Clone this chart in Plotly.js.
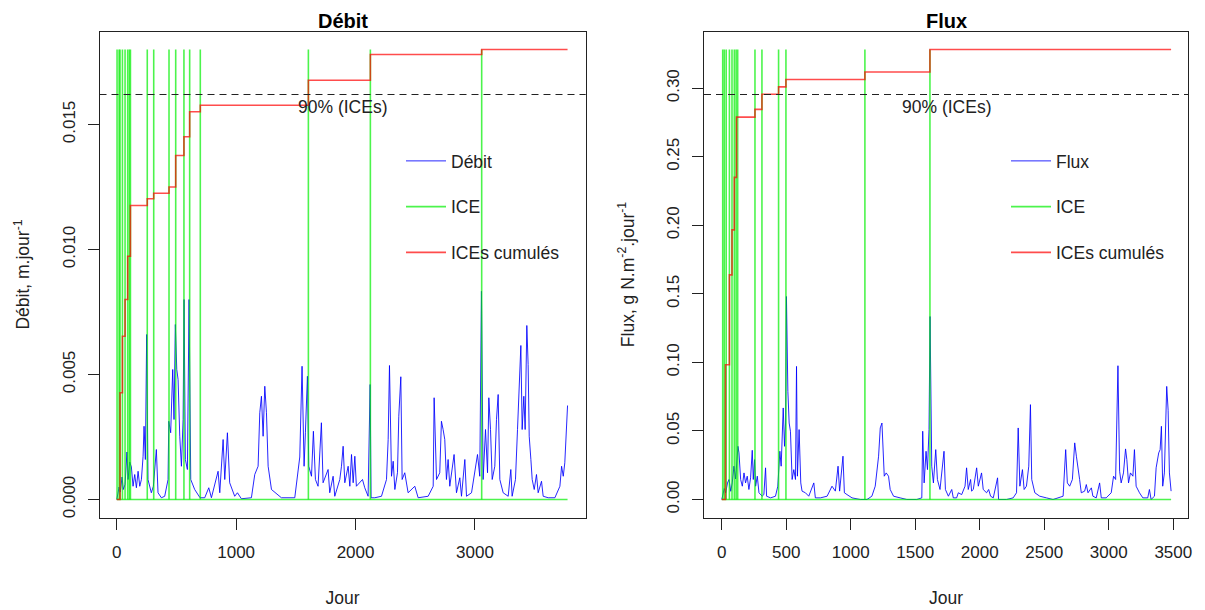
<!DOCTYPE html>
<html>
<head>
<meta charset="utf-8">
<script src="https://cdn.plot.ly/plotly-3.0.1.min.js"></script>
<style>html,body{margin:0;padding:0;background:#fff;}#chart{width:1205px;height:610px;}</style>
</head>
<body>
<div id="chart"></div>
<script>
// ---------- Débit panel (left) ----------
const debitDays = [1,10,20,30,45,55,70,86,95,109,123,137,151,165,179,193,207,221,229,240,251,262,290,307,318,332,346,374,402,430,436,452,469,480,491,503,514,528,542,556,564,575,592,606,620,653,698,737,771,793,849,863,891,905,927,946,988,1011,1044,1128,1156,1184,1198,1212,1226,1240,1254,1268,1296,1379,1491,1533,1552,1569,1580,1597,1608,1631,1647,1664,1686,1714,1728,1770,1784,1812,1826,1868,1882,1896,1910,1938,1952,1966,1980,1994,2007,2035,2058,2077,2105,2122,2130,2161,2217,2259,2273,2284,2301,2315,2329,2351,2362,2379,2390,2412,2440,2496,2524,2608,2650,2658,2678,2705,2719,2733,2747,2761,2775,2789,2825,2845,2873,2887,2915,2929,2971,3021,3040,3054,3068,3088,3105,3116,3130,3144,3166,3180,3194,3208,3236,3278,3300,3311,3339,3356,3370,3384,3395,3409,3420,3434,3445,3454,3468,3479,3496,3515,3529,3557,3571,3613,3669,3711,3725,3739,3752,3764,3775];
const debitValues = [0,0.0002,0.0005,0.0003,0.0009,0.0004,0.0006,0.0019,0.0008,0.0015,0.0013,0.00053,0.001,0.00047,0.00113,0.00053,0.0008,0.00173,0.00293,0.0016,0.0066,0.0008,0.00027,0.00053,0.00133,0.002,0.00027,0.00007,0.00013,0.0008,0.00313,0.00267,0.0052,0.0032,0.007,0.0052,0.0048,0.00253,0.00133,0.0032,0.008,0.0016,0.0012,0.008,0.0008,0.0004,0.00007,0.00007,0.00047,0.00007,0.00113,0.00027,0.0024,0.0008,0.00267,0.00067,0.00013,0.00027,0.00003,0.00007,0.001,0.00133,0.00347,0.00413,0.00253,0.00453,0.00347,0.00133,0.0004,0.00007,0.00007,0.0017,0.00533,0.00133,0.00267,0.00493,0.00133,0.00093,0.00273,0.0008,0.00053,0.00307,0.00067,0.0012,0.00027,0.00093,0.00013,0.0008,0.00133,0.00213,0.00067,0.00133,0.00053,0.0018,0.00067,0.00173,0.00053,0.00067,0.0008,0.00047,0.00013,0.0046,0.00007,0.00007,0.00013,0.0008,0.0024,0.00536,0.00093,0.00153,0.0004,0.00107,0.00333,0.00491,0.0008,0.00107,0.00027,0.00053,0.00007,0.00013,0.00053,0.00407,0.0008,0.00107,0.00313,0.0028,0.0024,0.0008,0.0016,0.00053,0.0018,0.00027,0.00087,0.00013,0.0016,0.00013,0.00027,0.0018,0.00093,0.00833,0.0008,0.0028,0.00107,0.00407,0.0028,0.0008,0.00133,0.0032,0.0042,0.0008,0.00027,0.00013,0.0012,0.00013,0.0008,0.0028,0.00467,0.00616,0.0028,0.00413,0.0028,0.00696,0.0054,0.00253,0.0016,0.0008,0.0004,0.001,0.00027,0.00073,0.00013,0.00007,0.00007,0.00053,0.00133,0.00093,0.00147,0.00247,0.00376];
const iceDaysDebit = [3,20,28,48,70,92,106,115,256,310,438,494,563,611,700,1605,2124,3056];
const cumDaysDebit = [1,28,48,70,92,115,256,310,438,494,563,611,700,1605,2124,3056,3775];
const cumDebit = [0,0.00427,0.00653,0.0080,0.00973,0.01176,0.01203,0.01225,0.0125,0.01376,0.01451,0.01551,0.01577,0.01677,0.0178,0.018,0.018];

// ---------- Flux panel (right) ----------
const fluxDays = [1,10,20,31,45,57,70,82,95,108,118,126,134,147,160,173,185,198,211,224,237,245,255,263,276,289,314,327,340,348,379,417,435,451,461,477,487,495,502,513,523,533,546,559,572,580,587,600,613,623,649,675,714,726,765,817,855,881,902,914,940,951,971,1010,1074,1126,1164,1190,1216,1229,1242,1249,1260,1275,1293,1306,1332,1383,1435,1512,1551,1558,1569,1584,1595,1607,1615,1628,1641,1659,1672,1692,1723,1734,1757,1783,1795,1821,1834,1860,1886,1898,1911,1929,1937,1950,1963,1976,1989,2014,2027,2053,2069,2084,2105,2138,2146,2208,2259,2285,2298,2311,2331,2344,2362,2380,2393,2403,2427,2465,2517,2568,2646,2666,2679,2697,2718,2736,2749,2761,2774,2787,2813,2826,2839,2865,2877,2903,2929,2942,2980,3019,3037,3053,3071,3084,3096,3114,3130,3140,3153,3168,3187,3199,3212,3238,3264,3302,3315,3328,3354,3367,3387,3398,3408,3418,3431,3449,3460,3470,3478,3483];
const fluxValues = [0,0.003,0.008,0.0049,0.012,0.0146,0.006,0.0121,0.0243,0.015,0.03,0.0388,0.034,0.0146,0.0097,0.0194,0.0121,0.017,0.0073,0.0158,0.0359,0.0146,0.0291,0.0097,0.017,0.0049,0.0024,0.0036,0.0231,0.0024,0.0012,0.0024,0.0097,0.0352,0.0243,0.0668,0.0388,0.0558,0.1481,0.0789,0.0558,0.0498,0.0146,0.0218,0.0146,0.0971,0.017,0.051,0.0121,0.0061,0.0049,0.0024,0.0121,0.0012,0.0012,0.0024,0.0097,0.0061,0.0243,0.0061,0.0316,0.0049,0.0036,0.0012,0,0,0.0024,0.0097,0.0316,0.0522,0.0558,0.034,0.017,0.0194,0.017,0.0073,0.0024,0.0012,0,0,0.0012,0.0498,0.0121,0.0352,0.0218,0.051,0.1335,0.0243,0.0121,0.0364,0.0146,0.0073,0.0352,0.0073,0.0024,0.0073,0.0012,0.0012,0.0049,0.0036,0.0097,0.0231,0.0073,0.0146,0.0061,0.0073,0.0146,0.0231,0.0097,0.0194,0.0073,0.0049,0.0073,0.0024,0.0012,0.0158,0,0,0.0012,0.0049,0.0522,0.0097,0.0218,0.0073,0.0097,0.0243,0.0692,0.0146,0.0049,0.0024,0.0012,0,0.0024,0.0364,0.0121,0.0097,0.0146,0.0413,0.0316,0.0243,0.0146,0.0049,0.0061,0.0109,0.0049,0.0085,0.0024,0.0012,0.0121,0.0012,0.0012,0.0049,0.017,0.0146,0.0976,0.0206,0.0121,0.0194,0.0369,0.0291,0.0121,0.0194,0.017,0.0364,0.0097,0.0049,0.0012,0.0012,0.0073,0,0.0024,0.0231,0.034,0.0364,0.0534,0.0097,0.0194,0.0825,0.0651,0.0194,0.0085,0.0061];
const iceDaysFlux = [8,20,35,60,80,98,112,124,258,312,441,498,1110,1614];
const cumDaysFlux = [1,29,60,80,98,115,258,312,441,498,1110,1614,3483];
const cumFlux = [0,0.0983,0.1639,0.1967,0.235,0.279,0.2846,0.2957,0.301,0.3064,0.3119,0.3283,0.3283];

// ---------- axes ticks ----------
const xTicksDebit = [0,1000,2000,3000];
const yTicksDebit = [0,0.005,0.010,0.015];
const yTickTextDebit = ['0.000','0.005','0.010','0.015'];
const xTicksFlux = [0,500,1000,1500,2000,2500,3000,3500];
const yTicksFlux = [0,0.05,0.10,0.15,0.20,0.25,0.30];
const yTickTextFlux = ['0.00','0.05','0.10','0.15','0.20','0.25','0.30'];

const FONT = 'Liberation Sans, Arial, Helvetica, sans-serif';
const BLUE = 'rgba(0,0,255,0.85)';
const GREEN = 'rgba(0,240,0,0.7)';
const RED = 'rgba(255,0,0,0.7)';

function iceTrace(days, height, lastDay, xa, ya, leg, grp) {
  const x = [1, lastDay, null];
  const y = [0, 0, null];
  days.forEach(d => { x.push(d, d, null); y.push(0, height, null); });
  return {x, y, type:'scatter', mode:'lines', name:'ICE', xaxis:xa, yaxis:ya,
    line:{color:GREEN, width:1.6}, connectgaps:false, legend:leg, legendgroup:grp, hoverinfo:'skip'};
}

const dMax = Math.max(...cumDebit);
const fMax = Math.max(...cumFlux);

const traces = [
  {x:debitDays, y:debitValues, type:'scatter', mode:'lines', name:'Débit', xaxis:'x', yaxis:'y',
   line:{color:BLUE, width:1}, legend:'legend', legendgroup:'la'},
  iceTrace(iceDaysDebit, dMax, debitDays[debitDays.length-1], 'x', 'y', 'legend', 'lb'),
  {x:cumDaysDebit, y:cumDebit, type:'scatter', mode:'lines', name:'ICEs cumulés', xaxis:'x', yaxis:'y',
   line:{color:RED, width:1.6, shape:'hv'}, legend:'legend', legendgroup:'lc'},
  {x:fluxDays, y:fluxValues, type:'scatter', mode:'lines', name:'Flux', xaxis:'x2', yaxis:'y2',
   line:{color:BLUE, width:1}, legend:'legend2', legendgroup:'ra'},
  iceTrace(iceDaysFlux, fMax, fluxDays[fluxDays.length-1], 'x2', 'y2', 'legend2', 'rb'),
  {x:cumDaysFlux, y:cumFlux, type:'scatter', mode:'lines', name:'ICEs cumulés', xaxis:'x2', yaxis:'y2',
   line:{color:RED, width:1.6, shape:'hv'}, legend:'legend2', legendgroup:'rc'}
];

const W = 1205, H = 610;
const titleFont = {family:FONT, size:17.5, color:'#222'};
const axisCommon = {
  showgrid:false, zeroline:false, showline:true, mirror:true, linecolor:'#222', linewidth:1,
  ticks:'outside', ticklen:11, tickcolor:'#222', tickwidth:1,
  tickfont:{family:FONT, size:17, color:'#222'}, automargin:false
};
const xAxisCommon = Object.assign({}, axisCommon, {ticklabelstandoff:8,
  title:{text:'Jour', standoff:30, font:titleFont}});
const legendCommon = {
  xanchor:'left', yanchor:'top', bgcolor:'rgba(0,0,0,0)', borderwidth:0,
  font:{family:FONT, size:17.5, color:'#222'}, traceorder:'grouped', tracegroupgap:20,
  itemwidth:40
};

const layout = {
  width:W, height:H, paper_bgcolor:'#fff', plot_bgcolor:'#fff',
  margin:{l:0, r:0, t:0, b:0}, showlegend:true,
  font:{family:FONT, size:17, color:'#222'},
  xaxis:Object.assign({}, xAxisCommon, {domain:[99.5/W, 585.7/W], range:[-144, 3927],
    tickvals:xTicksDebit, ticktext:xTicksDebit.map(String), anchor:'y'}),
  yaxis:Object.assign({}, axisCommon, {domain:[(H-517.5)/H, (H-31.5)/H], range:[-0.04*dMax, 1.04*dMax],
    tickvals:yTicksDebit, ticktext:yTickTextDebit, tickangle:-90, anchor:'x', ticklabelstandoff:6,
    title:{text:'Débit, m.jour<sup>-1</sup>', standoff:25, font:titleFont}}),
  xaxis2:Object.assign({}, xAxisCommon, {domain:[704/W, 1188/W], range:[-137, 3614],
    tickvals:xTicksFlux, ticktext:xTicksFlux.map(String), anchor:'y2'}),
  yaxis2:Object.assign({}, axisCommon, {domain:[(H-517.5)/H, (H-31.5)/H], range:[-0.04*fMax, 1.04*fMax],
    tickvals:yTicksFlux, ticktext:yTickTextFlux, tickangle:-90, anchor:'x2', ticklabelstandoff:6,
    title:{text:'Flux, g N.m<sup>-2</sup>.jour<sup>-1</sup>', standoff:25, font:titleFont}}),
  legend:Object.assign({}, legendCommon, {x:401/W, y:(H-143)/H}),
  legend2:Object.assign({}, legendCommon, {x:1006/W, y:(H-143)/H}),
  shapes:[
    {type:'line', xref:'x domain', yref:'y', x0:0, x1:1, y0:0.9*dMax, y1:0.9*dMax,
     line:{color:'#222', width:1, dash:'7px,5px'}},
    {type:'line', xref:'x2 domain', yref:'y2', x0:0, x1:1, y0:0.9*fMax, y1:0.9*fMax,
     line:{color:'#222', width:1, dash:'7px,5px'}}
  ],
  annotations:[
    {text:'<b>Débit</b>', xref:'paper', yref:'paper', x:342.6/W, y:1-21/H, xanchor:'center', yanchor:'middle',
     showarrow:false, font:{family:FONT, size:20, color:'#000'}},
    {text:'<b>Flux</b>', xref:'paper', yref:'paper', x:946/W, y:1-21/H, xanchor:'center', yanchor:'middle',
     showarrow:false, font:{family:FONT, size:20, color:'#000'}},
    {text:'90% (ICEs)', xref:'x', yref:'y', x:(debitDays[0]+debitDays[debitDays.length-1])/2, y:0.9*dMax,
     xanchor:'center', yanchor:'top', yshift:0, showarrow:false, font:{family:FONT, size:17.5, color:'#222'}},
    {text:'90% (ICEs)', xref:'x2', yref:'y2', x:(fluxDays[0]+fluxDays[fluxDays.length-1])/2, y:0.9*fMax,
     xanchor:'center', yanchor:'top', yshift:0, showarrow:false, font:{family:FONT, size:17.5, color:'#222'}}
  ]
};

Plotly.newPlot('chart', traces, layout, {displayModeBar:false, staticPlot:true});
</script>
</body>
</html>
